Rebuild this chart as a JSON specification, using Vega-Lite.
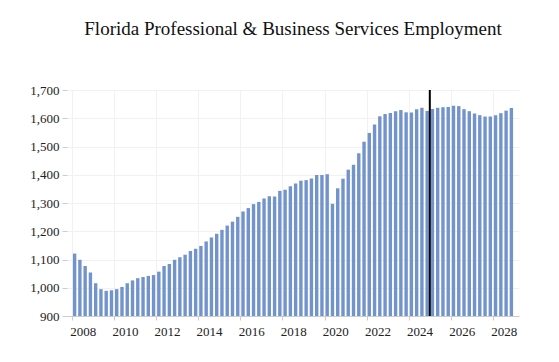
{
  "$schema": "https://vega.github.io/schema/vega-lite/v6.json",
  "width": 452,
  "height": 226,
  "autosize": {"type": "none"},
  "padding": {"left": 67, "top": 90, "right": 40, "bottom": 46},
  "background": "white",
  "config": {
    "view": {"stroke": null},
    "font": "Liberation Serif"
  },
  "title": {
    "text": "Florida Professional & Business Services Employment",
    "font": "Liberation Serif",
    "fontSize": 19,
    "fontWeight": "normal",
    "color": "#111111",
    "anchor": "middle",
    "offset": 45
  },
  "layer": [
    {
      "data": {"values": [
        {"t": 2008.125, "v": 1121}, {"t": 2008.375, "v": 1099}, {"t": 2008.625, "v": 1077}, {"t": 2008.875, "v": 1054},
        {"t": 2009.125, "v": 1016}, {"t": 2009.375, "v": 995}, {"t": 2009.625, "v": 989}, {"t": 2009.875, "v": 991},
        {"t": 2010.125, "v": 995}, {"t": 2010.375, "v": 1003}, {"t": 2010.625, "v": 1016}, {"t": 2010.875, "v": 1026},
        {"t": 2011.125, "v": 1034}, {"t": 2011.375, "v": 1038}, {"t": 2011.625, "v": 1042}, {"t": 2011.875, "v": 1045},
        {"t": 2012.125, "v": 1057}, {"t": 2012.375, "v": 1077}, {"t": 2012.625, "v": 1084}, {"t": 2012.875, "v": 1099},
        {"t": 2013.125, "v": 1108}, {"t": 2013.375, "v": 1117}, {"t": 2013.625, "v": 1130}, {"t": 2013.875, "v": 1138},
        {"t": 2014.125, "v": 1148}, {"t": 2014.375, "v": 1164}, {"t": 2014.625, "v": 1178}, {"t": 2014.875, "v": 1191},
        {"t": 2015.125, "v": 1205}, {"t": 2015.375, "v": 1220}, {"t": 2015.625, "v": 1234}, {"t": 2015.875, "v": 1251},
        {"t": 2016.125, "v": 1270}, {"t": 2016.375, "v": 1282}, {"t": 2016.625, "v": 1296}, {"t": 2016.875, "v": 1304},
        {"t": 2017.125, "v": 1316}, {"t": 2017.375, "v": 1324}, {"t": 2017.625, "v": 1323}, {"t": 2017.875, "v": 1343},
        {"t": 2018.125, "v": 1347}, {"t": 2018.375, "v": 1359}, {"t": 2018.625, "v": 1369}, {"t": 2018.875, "v": 1379},
        {"t": 2019.125, "v": 1381}, {"t": 2019.375, "v": 1387}, {"t": 2019.625, "v": 1399}, {"t": 2019.875, "v": 1399},
        {"t": 2020.125, "v": 1402}, {"t": 2020.375, "v": 1297}, {"t": 2020.625, "v": 1352}, {"t": 2020.875, "v": 1386},
        {"t": 2021.125, "v": 1418}, {"t": 2021.375, "v": 1435}, {"t": 2021.625, "v": 1476}, {"t": 2021.875, "v": 1517},
        {"t": 2022.125, "v": 1548}, {"t": 2022.375, "v": 1578}, {"t": 2022.625, "v": 1607}, {"t": 2022.875, "v": 1615},
        {"t": 2023.125, "v": 1619}, {"t": 2023.375, "v": 1625}, {"t": 2023.625, "v": 1629}, {"t": 2023.875, "v": 1621},
        {"t": 2024.125, "v": 1620}, {"t": 2024.375, "v": 1632}, {"t": 2024.625, "v": 1637}, {"t": 2024.875, "v": 1626},
        {"t": 2025.125, "v": 1633}, {"t": 2025.375, "v": 1637}, {"t": 2025.625, "v": 1639}, {"t": 2025.875, "v": 1640},
        {"t": 2026.125, "v": 1644}, {"t": 2026.375, "v": 1643}, {"t": 2026.625, "v": 1632}, {"t": 2026.875, "v": 1625},
        {"t": 2027.125, "v": 1617}, {"t": 2027.375, "v": 1611}, {"t": 2027.625, "v": 1606}, {"t": 2027.875, "v": 1606},
        {"t": 2028.125, "v": 1611}, {"t": 2028.375, "v": 1618}, {"t": 2028.625, "v": 1627}, {"t": 2028.875, "v": 1636}
      ]},
      "mark": {"type": "bar", "size": 3.4, "color": "#7394cb"},
      "encoding": {
        "x": {
          "field": "t",
          "type": "quantitative",
          "scale": {"domain": [2008, 2029], "nice": false, "zero": false},
          "axis": {
            "title": null,
            "values": [2008, 2010, 2012, 2014, 2016, 2018, 2020, 2022, 2024, 2026, 2028],
            "format": "d",
            "labelOffset": 10.8,
            "labelPadding": 5,
            "labelFont": "Liberation Serif",
            "labelFontSize": 13,
            "labelColor": "#222222",
            "domainColor": "#cccccc",
            "tickColor": "#cccccc",
            "tickSize": 4,
            "grid": true,
            "gridColor": "#f1f1f1"
          }
        },
        "y": {
          "field": "v",
          "type": "quantitative",
          "scale": {"domain": [900, 1700], "nice": false, "zero": false},
          "axis": {
            "title": null,
            "values": [900, 1000, 1100, 1200, 1300, 1400, 1500, 1600, 1700],
            "format": ",d",
            "labelFont": "Liberation Serif",
            "labelFontSize": 13,
            "labelColor": "#222222",
            "labelPadding": 3,
            "domain": false,
            "tickColor": "#cccccc",
            "tickSize": 5,
            "grid": true,
            "gridColor": "#f1f1f1"
          }
        },
        "y2": {"datum": 900}
      }
    },
    {
      "data": {"values": [{"t": 2025}]},
      "mark": {"type": "rule", "color": "#000000", "strokeWidth": 2},
      "encoding": {
        "x": {"field": "t", "type": "quantitative"}
      }
    }
  ]
}
